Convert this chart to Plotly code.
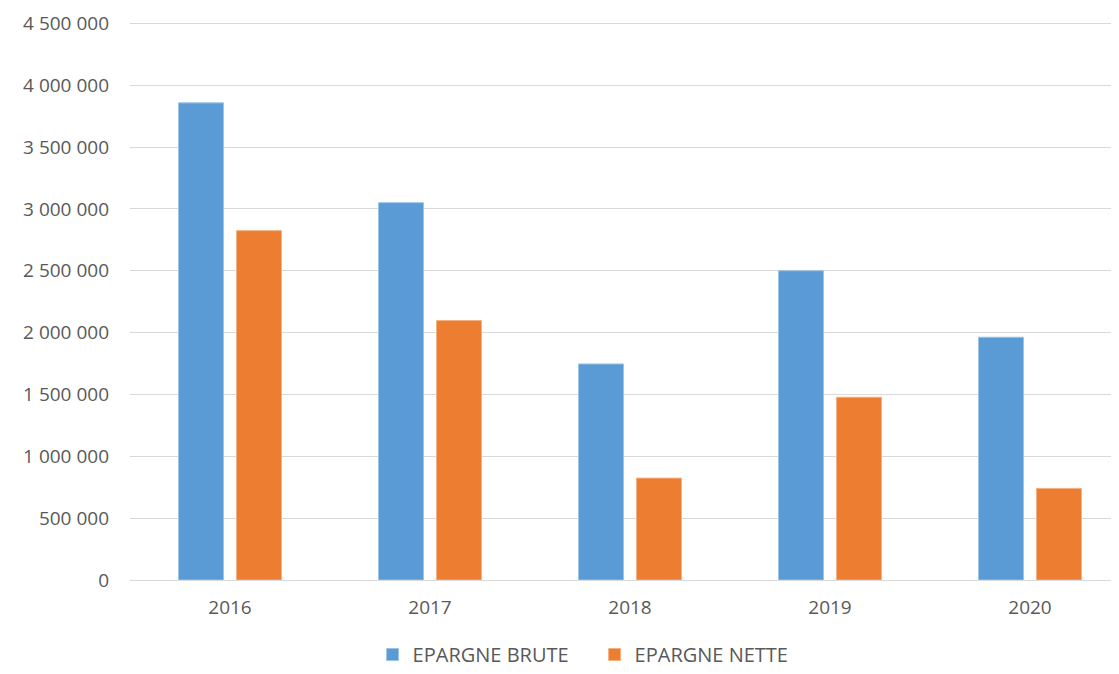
import plotly.graph_objects as go

years = ["2016", "2017", "2018", "2019", "2020"]
epargne_brute = [3858000, 3051000, 1747000, 2501000, 1963000]
epargne_nette = [2825000, 2098000, 824000, 1478000, 741000]
y_ticks = [0, 500000, 1000000, 1500000, 2000000, 2500000, 3000000, 3500000, 4000000, 4500000]

FONT = "Open Sans"
TXT = "#595959"
fig = go.Figure()
fig.add_trace(go.Bar(x=years, y=epargne_brute, name="EPARGNE BRUTE",
                     marker=dict(color="#5B9BD5", line=dict(color="#9DC3E6", width=1))))
fig.add_trace(go.Bar(x=years, y=epargne_nette, name="EPARGNE NETTE",
                     marker=dict(color="#ED7D31", line=dict(color="#F4B183", width=1))))

# page body has an 8px default margin, so the figure is sized to fill the rest
fig.update_layout(
    width=1111, height=666,
    margin=dict(l=122, r=0, t=13, b=94),
    paper_bgcolor="white", plot_bgcolor="white",
    separators=", ",
    barmode="group", bargap=0.42, bargroupgap=0.224,
    font=dict(family=FONT, size=19, color=TXT),
    showlegend=True,
    legend=dict(orientation="h", xref="container", yref="container",
                x=0.528, xanchor="center", y=-0.006, yanchor="bottom",
                font=dict(size=20, color=TXT), itemwidth=30,
                entrywidth=177, entrywidthmode="pixels",
                traceorder="normal"),
    xaxis=dict(type="category", range=[-0.5, 4.445], showgrid=False,
               showline=True, linecolor="#D9D9D9", linewidth=1,
               ticks="", ticklabelstandoff=10, tickfont=dict(size=19, color=TXT)),
    yaxis=dict(range=[0, 4520000], tickvals=y_ticks, tickformat=",d",
               showgrid=True, gridcolor="#D9D9D9", gridwidth=1,
               zeroline=False, showline=False, ticks="",
               ticklabelstandoff=20, tickfont=dict(size=19, color=TXT)),
)
fig.write_html("out.html")
